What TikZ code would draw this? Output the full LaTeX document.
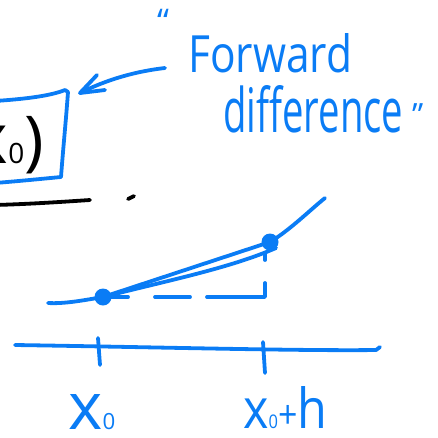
\documentclass[tikz,border=0pt]{standalone}
\usepackage{fontspec}
\setmainfont{Open Sans}
\usepackage{graphicx}
\definecolor{penblue}{RGB}{10,124,245}
\begin{document}
\begin{tikzpicture}[x=1pt,y=-1pt,line cap=round,line join=round,
  pen/.style={draw=penblue,line width=3.8pt},
  ink/.style={draw=black,line width=3.8pt},
  dot/.style={circle,fill=penblue,inner sep=0pt,minimum size=17pt},
  hand/.style={text=penblue,inner sep=0pt},
  blacktext/.style={text=black,inner sep=0pt}]
\useasboundingbox (0,0) rectangle (438,437);
\clip (0,0) rectangle (438,437);
% box (partly outside the picture)
\draw[pen] (-5,101) .. controls (25,99) and (50,96) .. (65,90) -- (68,92)
  .. controls (66,120) and (63,150) .. (61,177)
  .. controls (40,179) and (20,181) .. (-5,183);
\node[blacktext,anchor=base east] (fx) at (44,163)
  {{\fontsize{70}{70}\selectfont x}{\fontsize{28}{28}\selectfont 0}{\fontsize{66}{66}\selectfont )}};
% black line below the box
\coordinate (la) at (-5,205);
\coordinate (lb) at (90,200);
\draw[ink] (la) .. controls (30,204) and (60,202) .. (lb);
\coordinate (sa) at (128,199);
\coordinate (sb) at (134,196);
\draw[ink] (sa) -- (sb);
% label text
\node[hand,anchor=north west] (oq) at (157,9) {\fontsize{34}{34}\selectfont “};
\node[hand,anchor=base west] (fw) at (188,72) {\resizebox{164pt}{39pt}{Forward}};
\node[hand,anchor=base west] (diff) at (223,132) {\resizebox{180pt}{47pt}{difference}};
\node[hand,anchor=north west] (cq) at (412,103) {\fontsize{32}{32}\selectfont ”};
% arrow to the box
\coordinate (atail) at (165,68);
\coordinate (ahead) at (80,93);
\coordinate (barb1) at (97,75);
\coordinate (barb2) at (105,90);
\draw[pen] (atail) .. controls (130,72) and (102,82) .. (ahead);
\draw[pen] (barb1) -- (ahead) -- (barb2);
% graph
\coordinate (P1) at (103,297);
\coordinate (P2) at (270,242);
\coordinate (cstart) at (48,303);
\coordinate (cend) at (325,198);
\coordinate (clow) at (276,248);
\coordinate (corner) at (265,297);
\coordinate (vtop) at (265,250);
\draw[pen] (cstart) .. controls (65,304) and (85,300) .. (P1);
\draw[pen] (P1) -- (P2);
\draw[pen] (P1) .. controls (170,280) and (230,268) .. (clow);
\draw[pen] (P2) .. controls (290,230) and (310,210) .. (cend);
\draw[pen,dash pattern=on 25pt off 27pt on 35pt off 17pt on 72pt off 23pt on 7pt off 100pt]
  (P1) -- (corner) -- (vtop);
\node[dot] (p1) at (P1) {};
\node[dot] (p2) at (P2) {};
% axis
\coordinate (ax0) at (15,345);
\coordinate (ax1) at (376,350);
\coordinate (ax2) at (380,347);
\draw[pen] (ax0) .. controls (150,347) and (300,351) .. (ax1) -- (ax2);
\coordinate (t0a) at (98,338);
\coordinate (t0b) at (100,365);
\coordinate (t1a) at (263,342);
\coordinate (t1b) at (265,373);
\draw[pen] (t0a) -- (t0b);
\draw[pen] (t1a) -- (t1b);
% tick labels
\node[hand,anchor=base west] (lx0) at (68,429)
  {\resizebox{47pt}{35pt}{x{\fontsize{3.4}{3.4}\selectfont 0}}};
\node[hand,anchor=base west] (lx0h) at (243,428)
  {\resizebox{84pt}{42pt}{x{\fontsize{3.4}{3.4}\selectfont 0}{\fontsize{7}{7}\selectfont +}h}};
\end{tikzpicture}
\end{document}
